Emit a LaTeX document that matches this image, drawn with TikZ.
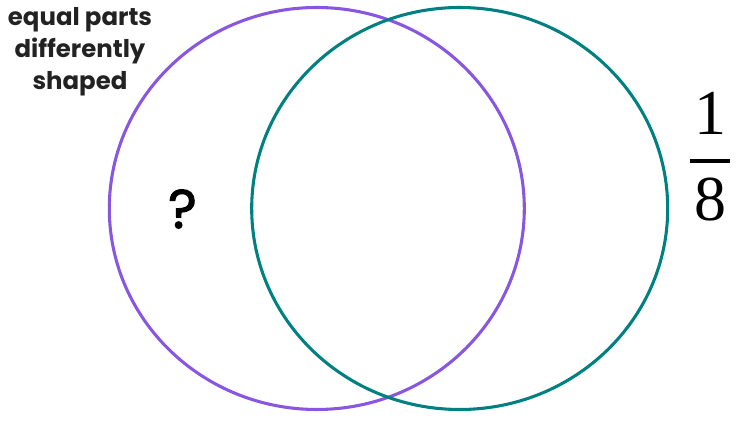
\documentclass[tikz,border=0pt]{standalone}
\usepackage{fontspec}
\setmainfont{Poppins}
\newfontfamily\serifnum{Liberation Serif}
\newfontfamily\qfont[FakeBold=2]{Poppins}
\definecolor{vpurple}{RGB}{136,86,224}
\definecolor{vteal}{RGB}{0,128,128}
\definecolor{txtdark}{RGB}{34,34,34}
\begin{document}
\begin{tikzpicture}[x=0.75pt,y=-0.75pt,
  setring/.style={line width=2.3pt},
  lbl/.style={font=\fontsize{18.3pt}{24pt}\selectfont\bfseries, text=txtdark, align=center, inner sep=0pt},
  qmark/.style={font=\fontsize{41pt}{41pt}\qfont, text=black, inner sep=0pt},
  fracdigit/.style={font=\fontsize{48pt}{48pt}\serifnum, text=black, inner sep=0pt}]
  \useasboundingbox (0,0) rectangle (750,423);
  \draw[setring, vpurple] (316.8,208.5) ellipse [x radius=207.5, y radius=201];
  \draw[setring, vteal] (459.7,208.5) ellipse [x radius=208, y radius=201];
  \node[lbl] (title) at (80,52) {equal parts\\differently\\shaped};
  \node[qmark] (q) at (182.5,209) {?};
  \node[fracdigit, anchor=base] (num) at (710,135) {1};
  \node[fracdigit, anchor=base] (den) at (710,221) {8};
  \coordinate (barL) at (690,161);
  \coordinate (barR) at (730,161);
  \draw[line width=2.8pt] (barL) -- (barR);
\end{tikzpicture}
\end{document}
